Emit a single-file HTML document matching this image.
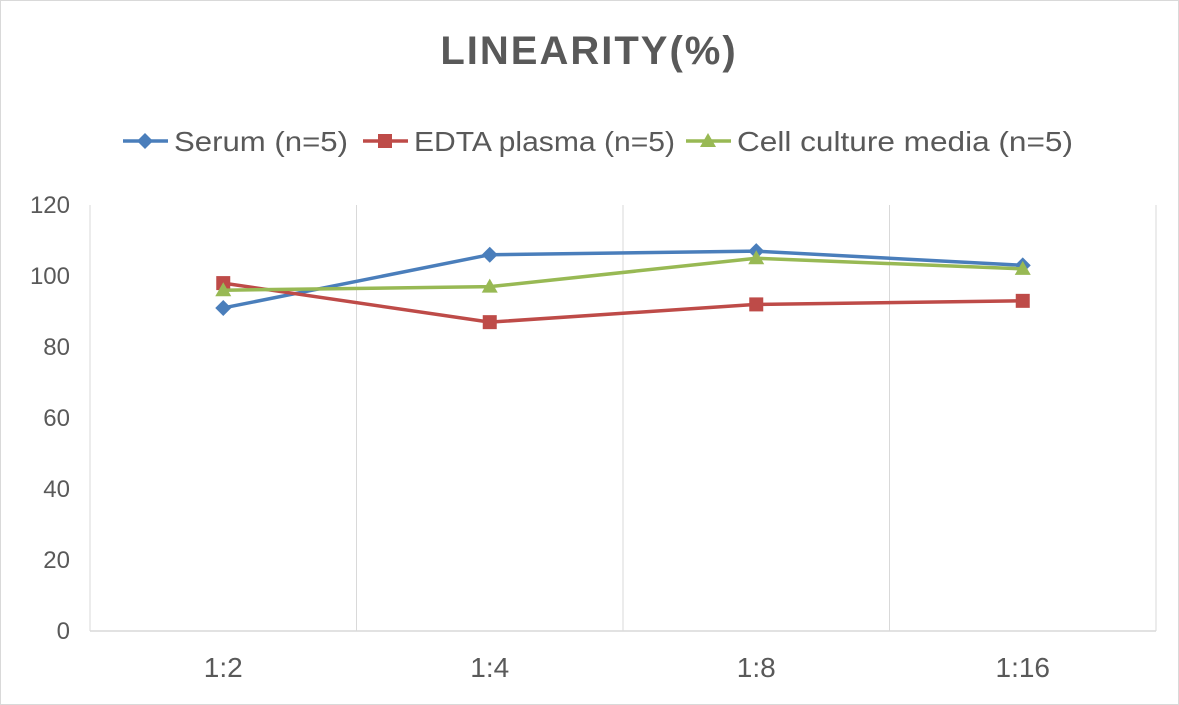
<!DOCTYPE html>
<html><head><meta charset="utf-8"><style>
body{margin:0;background:#fff;}
svg{display:block;font-family:"Liberation Sans",sans-serif;}
</style></head><body>
<svg id="chart" width="1179" height="705" viewBox="0 0 1179 705">
<rect x="0.5" y="0.5" width="1178" height="704" fill="#fff" stroke="#d9d9d9"/>
<text x="589" y="64" text-anchor="middle" font-size="40" font-weight="bold" fill="#595959" letter-spacing="2">LINEARITY(%)</text>
<g id="legend"></g>
<g id="grid"></g>
<g id="axes"></g>
<g id="series"></g>
</svg>
<script>
const categories=["1:2","1:4","1:8","1:16"];
const serum=[91,106,107,103];
const edta=[98,87,92,93];
const cell=[96,97,105,102];
const yTicks=[0,20,40,60,80,100,120];
const seriesNames=["Serum (n=5)","EDTA plasma (n=5)","Cell culture media (n=5)"];
const NS="http://www.w3.org/2000/svg";
const L=90,R=1156,T=205,B=631,ymax=120;
const bw=(R-L)/categories.length;
const x=i=>L+bw*(i+0.5);
const y=v=>B-(v/ymax)*(B-T);
function mk(tag,attrs,parent){const e=document.createElementNS(NS,tag);for(const k in attrs)e.setAttribute(k,attrs[k]);parent.appendChild(e);return e;}
const grid=document.getElementById('grid'),axes=document.getElementById('axes'),ser=document.getElementById('series'),leg=document.getElementById('legend');
for(let i=0;i<=categories.length;i++){const gx=L+bw*i;const l=mk('line',{x1:gx,x2:gx,y1:T,y2:B,stroke:'#d9d9d9','stroke-width':1},grid);

}
const ax=mk('line',{x1:L,x2:R,y1:B,y2:B,stroke:'#d9d9d9','stroke-width':1.5},axes);


yTicks.forEach(v=>{const t=mk('text',{x:70,y:y(v)+8,'text-anchor':'end','font-size':24,fill:'#595959'},axes);t.textContent=v;

});
categories.forEach((c,i)=>{const t=mk('text',{x:x(i),y:677,'text-anchor':'middle','font-size':28,fill:'#595959'},axes);t.textContent=c;

});
const colors=["#4a7ebb","#be4b48","#98b954"];
const shapes=["diamond","square","triangle"];
function marker(shape,cx,cy,col,parent){
 if(shape==="diamond")return mk('polygon',{points:`${cx},${cy-8} ${cx+8},${cy} ${cx},${cy+8} ${cx-8},${cy}`,fill:col},parent);
 if(shape==="square")return mk('rect',{x:cx-7,y:cy-7,width:14,height:14,fill:col},parent);
 return mk('polygon',{points:`${cx},${cy-8} ${cx+8},${cy+6} ${cx-8},${cy+6}`,fill:col},parent);}
[serum,edta,cell].forEach((data,s)=>{
 const g=mk('g',{},ser);
 
 
 const pl=mk('polyline',{points:data.map((v,i)=>x(i)+','+y(v)).join(' '),fill:'none',stroke:colors[s],'stroke-width':3.5,'stroke-linejoin':'round'},g);
 
 
 data.forEach((v,i)=>{const m=marker(shapes[s],x(i),y(v),colors[s],g);
 
 });
});
const lx=[123,363,686];
const lw=[174,261,336];
seriesNames.forEach((n,s)=>{const g=mk('g',{},leg);
 
 
 mk('line',{x1:lx[s],x2:lx[s]+45,y1:141,y2:141,stroke:colors[s],'stroke-width':3.5},g);
 marker(shapes[s],lx[s]+22,141,colors[s],g);
 const t=mk('text',{x:lx[s]+51,y:151,'font-size':28,fill:'#595959',textLength:lw[s],lengthAdjust:'spacingAndGlyphs'},g);t.textContent=n;});
</script>
</body></html>
